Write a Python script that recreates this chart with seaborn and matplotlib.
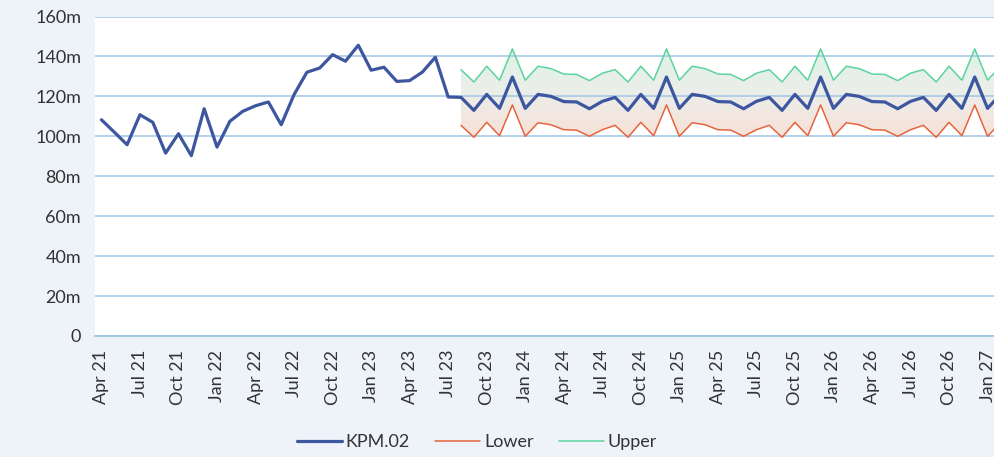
import numpy as np
import pandas as pd
import matplotlib.pyplot as plt
from matplotlib.colors import LinearSegmentedColormap
import seaborn as sns

# monthly categories, Apr 21 onwards (chart is cropped just after Jan 27)
months = pd.date_range('2021-04-01', periods=72, freq='MS')
month_labels = months.strftime('%b %y')

# actuals Apr 21 - Jul 23 (in millions)
kpm_actual = [108.3, 102.1, 95.8, 110.8, 107.0, 91.6, 101.3, 90.3, 113.8, 94.6,
              107.5, 112.5, 115.3, 117.2, 105.8, 120.9, 132.1, 134.2, 140.9, 137.6,
              145.6, 133.1, 134.6, 127.5, 127.9, 132.2, 139.6, 119.7]

# forecast Aug 23 - Mar 27
kpm_forecast = [119.5, 113.0, 121.0, 114.0, 129.7, 114.0, 121.0, 120.0, 117.4, 117.2, 113.8, 117.5,
                119.5, 113.0, 121.0, 114.0, 129.7, 114.0, 121.0, 120.0, 117.4, 117.2, 113.8, 117.5,
                119.5, 113.0, 121.0, 114.0, 129.7, 114.0, 121.0, 120.0, 117.4, 117.2, 113.8, 117.5,
                119.5, 113.0, 121.0, 114.0, 129.7, 114.0, 121.0, 120.0]
upper = [133.4, 127.2, 135.1, 128.1, 143.8, 128.1, 135.1, 133.9, 131.2, 131.0, 127.9, 131.6,
         133.4, 127.2, 135.1, 128.1, 143.8, 128.1, 135.1, 133.9, 131.2, 131.0, 127.9, 131.6,
         133.4, 127.2, 135.1, 128.1, 143.8, 128.1, 135.1, 133.9, 131.2, 131.0, 127.9, 131.6,
         133.4, 127.2, 135.1, 128.1, 143.8, 128.1, 135.1, 133.9]
lower = [105.5, 99.5, 107.0, 100.3, 115.7, 100.0, 106.8, 105.8, 103.3, 103.1, 100.0, 103.3,
         105.5, 99.5, 107.0, 100.3, 115.7, 100.0, 106.8, 105.8, 103.3, 103.1, 100.0, 103.3,
         105.5, 99.5, 107.0, 100.3, 115.7, 100.0, 106.8, 105.8, 103.3, 103.1, 100.0, 103.3,
         105.5, 99.5, 107.0, 100.3, 115.7, 100.0, 106.8, 105.8]

y_ticks = [0, 20, 40, 60, 80, 100, 120, 140, 160]
y_tick_labels = ['0', '20m', '40m', '60m', '80m', '100m', '120m', '140m', '160m']

BG = '#edf3f9'
GRID = '#9fc5e5'
BLUE = '#3d56a0'
RED = '#e6643d'
GREEN = '#5dd39e'
TEXT = '#333333'

sns.set_theme(style='white')
plt.rcParams['font.family'] = ['Lato', 'DejaVu Sans']

n_act = len(kpm_actual)
df = pd.DataFrame({'idx': np.arange(len(months)),
                   'kpm': kpm_actual + kpm_forecast})
band = pd.DataFrame({'idx': np.arange(n_act, len(months)),
                     'upper': upper, 'lower': lower})

fig = plt.figure(figsize=(9.94, 4.57), dpi=100, facecolor=BG)
ax = fig.add_axes([95 / 994, 121 / 457, 899 / 994, 319.5 / 457])
ax.set_facecolor('white')

# gradient band between lower and upper
poly = ax.fill_between(band['idx'], band['lower'], band['upper'],
                       facecolor='none', edgecolor='none')
cmap = LinearSegmentedColormap.from_list('band', ['#f8e0d6', '#eceeea', '#dcf3e8'])
grad = np.linspace(0, 1, 256).reshape(-1, 1)
img = ax.imshow(grad, cmap=cmap, aspect='auto', origin='lower',
                extent=(-0.5, 75, 98, 146), zorder=0.3)
img.set_clip_path(poly.get_paths()[0], transform=ax.transData)

sns.lineplot(data=df, x='idx', y='kpm', color=BLUE, lw=2.3, ax=ax,
             label='KPM.02', zorder=4)
sns.lineplot(data=band, x='idx', y='lower', color=RED, lw=1.1, ax=ax,
             label='Lower', zorder=3)
sns.lineplot(data=band, x='idx', y='upper', color=GREEN, lw=1.1, ax=ax,
             label='Upper', zorder=3)

ax.set_xlim(-0.5, 69.5)
ax.set_ylim(0, 160)
ax.set_xlabel('')
ax.set_ylabel('')

ax.set_yticks(y_ticks)
ax.set_yticklabels(y_tick_labels)
ax.yaxis.grid(True, color=GRID, lw=1.1)
ax.set_axisbelow(True)

major = np.arange(0, len(months), 3)
ax.set_xticks(major)
ax.set_xticklabels([month_labels[i] for i in major], rotation=90)
ax.set_xticks(major - 0.5, minor=True)
ax.tick_params(axis='x', which='major', length=0, pad=10, labelsize=13, colors=TEXT)
ax.tick_params(axis='x', which='minor', length=5, width=1.3, color=GRID, direction='out')
ax.tick_params(axis='y', length=0, pad=10, labelsize=13, colors=TEXT)

for s in ['top', 'right', 'left']:
    ax.spines[s].set_visible(False)
ax.spines['bottom'].set_color(GRID)
ax.spines['bottom'].set_linewidth(1.3)

handles, labels = ax.get_legend_handles_labels()
ax.get_legend().remove()
fig.legend(handles, labels, loc='center', bbox_to_anchor=(477 / 994, 15 / 457),
           ncol=3, frameon=False, fontsize=13, handlelength=2.5,
           handletextpad=0.2, columnspacing=1.4, labelcolor=TEXT)

fig.savefig('out.png', dpi=100, facecolor=BG)
